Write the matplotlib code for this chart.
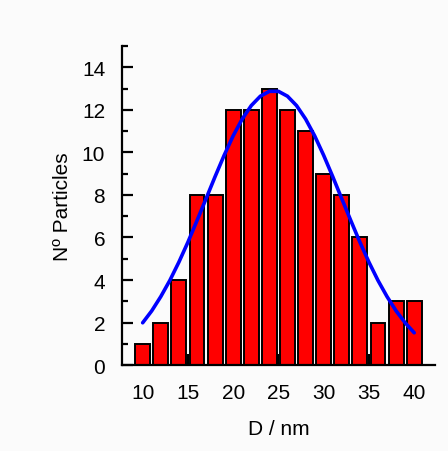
import matplotlib
matplotlib.use("Agg")
import matplotlib.pyplot as plt
from matplotlib.ticker import MultipleLocator

plt.rcParams['font.family'] = ['Liberation Sans', 'DejaVu Sans']

# Histogram data
diameters = [10, 12, 14, 16, 18, 20, 22, 24, 26, 28, 30, 32, 34, 36, 38, 40]
counts = [1, 2, 4, 8, 8, 12, 12, 13, 12, 11, 9, 8, 6, 2, 3, 3]

# Fit curve
fit_x = [10, 11, 12, 13, 14, 15, 16, 17, 18, 19, 20, 21, 22, 23, 24, 25,
         26, 27, 28, 29, 30, 31, 32, 33, 34, 35, 36, 37, 38, 39, 40]
fit_y = [1.99, 2.55, 3.22, 3.98, 4.84, 5.78, 6.79, 7.82, 8.86, 9.86, 10.78,
         11.57, 12.20, 12.64, 12.87, 12.87, 12.64, 12.20, 11.57, 10.78, 9.86,
         8.86, 7.82, 6.79, 5.78, 4.84, 3.98, 3.22, 2.55, 1.99, 1.52]

fig = plt.figure(figsize=(4.48, 4.52), dpi=100)
fig.patch.set_facecolor('#fbfbfb')
ax = fig.add_axes([0.272, 0.190, 0.699, 0.706])
ax.set_facecolor('#fbfbfb')

ax.bar(diameters, counts, width=1.65, color='#ff0000', edgecolor='black',
       linewidth=1.4, zorder=2)
ax.plot(fit_x, fit_y, color='#0000ff', linewidth=2.6, zorder=3,
        solid_capstyle='round')

ax.set_xlim(7.7, 42.3)
ax.set_ylim(0, 15)
ax.xaxis.set_major_locator(MultipleLocator(5))
ax.xaxis.set_minor_locator(MultipleLocator(2.5))
ax.yaxis.set_major_locator(MultipleLocator(2))
ax.yaxis.set_minor_locator(MultipleLocator(1))
ax.set_yticks(range(0, 15, 2))

for s in ['top', 'right']:
    ax.spines[s].set_visible(False)
for s in ['left', 'bottom']:
    ax.spines[s].set_linewidth(1.6)

ax.tick_params(which='major', direction='in', length=8, width=1.6,
               labelsize=15, zorder=4)
ax.tick_params(which='minor', direction='in', length=4, width=1.6)
ax.tick_params(axis='x', which='major', pad=13)
ax.tick_params(axis='y', which='major', pad=12)

ax.set_xlabel('D / nm', fontsize=15, labelpad=12)
ax.set_ylabel('Nº Particles', fontsize=15, labelpad=7)

fig.savefig('out.png', dpi=100, facecolor=fig.get_facecolor())
